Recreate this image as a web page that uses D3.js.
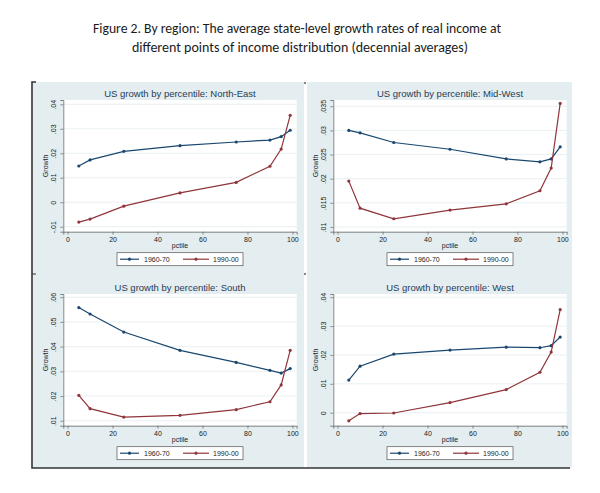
<!DOCTYPE html>
<html>
<head lang="en">
    <meta charset="UTF-8">
    <title>Growth by percentile, by region</title>
    <script type="text/javascript" src="https://cdn.jsdelivr.net/npm/d3@7/dist/d3.min.js"></script>
    <style>
        body { margin: 0; background: #fff; }
        text { font-family: "Liberation Sans", Arial, sans-serif; }
    </style>
</head>
<body>
<svg width="600" height="493"></svg>

<script>
    // percentiles shared by every panel
    var pctile = [5, 10, 25, 50, 75, 90, 95, 99];
    var seriesNames = ["1960-70", "1990-00"];
    var regions = ["North-East", "Mid-West", "South", "West"];

    // growth rates
    var ne6070 = [0.0148, 0.0173, 0.0208, 0.0231, 0.0246, 0.0254, 0.0268, 0.0294];
    var ne9000 = [-0.0081, -0.0069, -0.0016, 0.0038, 0.0081, 0.0147, 0.0217, 0.0355];
    var mw6070 = [0.0300, 0.0295, 0.0275, 0.0261, 0.0241, 0.0235, 0.0241, 0.0266];
    var mw9000 = [0.0195, 0.0139, 0.0117, 0.0135, 0.0148, 0.0175, 0.0222, 0.0356];
    var so6070 = [0.0558, 0.0532, 0.0459, 0.0385, 0.0336, 0.0304, 0.0293, 0.0311];
    var so9000 = [0.0203, 0.0149, 0.0115, 0.0122, 0.0145, 0.0177, 0.0245, 0.0385];
    var we6070 = [0.0113, 0.0161, 0.0203, 0.0217, 0.0227, 0.0225, 0.0232, 0.0262];
    var we9000 = [-0.0028, -0.0003, -0.0001, 0.0035, 0.0080, 0.0140, 0.0210, 0.0357];

    // axis ticks
    var xTicks = [0, 20, 40, 60, 80, 100];
    var neTicks = [-0.01, 0, 0.01, 0.02, 0.03, 0.04];
    var mwTicks = [0.01, 0.015, 0.02, 0.025, 0.03, 0.035];
    var soTicks = [0.01, 0.02, 0.03, 0.04, 0.05, 0.06];
    var weTicks = [0, 0.01, 0.02, 0.03, 0.04];

    // y ranges of the plot regions (Stata pads a little past the ticks)
    var xDomain = [-1.9, 101.9];
    var neDomain = [-0.01204, 0.04176];
    var mwDomain = [0.00902, 0.0363];
    var soDomain = [0.008, 0.0613];
    var weDomain = [-0.0045, 0.0411];

    var colors = ["#1a476f", "#90353b"];

    var panels = [
        {name: regions[0], data: [ne6070, ne9000], ticks: neTicks, domain: neDomain, col: 0, row: 0},
        {name: regions[1], data: [mw6070, mw9000], ticks: mwTicks, domain: mwDomain, col: 1, row: 0},
        {name: regions[2], data: [so6070, so9000], ticks: soTicks, domain: soDomain, col: 0, row: 1},
        {name: regions[3], data: [we6070, we9000], ticks: weTicks, domain: weDomain, col: 1, row: 1}
    ];

    // Stata style: ".04", "-.01", "0"
    function stataFmt(v) {
        var s = String(+v.toFixed(4));
        return s.replace(/^(-?)0\./, "$1.");
    }

    var svg = d3.select("svg");

    // figure title
    var title = svg.append("text")
            .attr("text-anchor", "middle")
            .style("font-family", "Carlito, Calibri, 'Open Sans', sans-serif")
            .style("font-size", "13.5px")
            .attr("fill", "#1a1a1a");
    title.append("tspan").attr("x", 297).attr("y", 33)
            .attr("textLength", 408).attr("lengthAdjust", "spacingAndGlyphs")
            .text("Figure 2. By region: The average state-level growth rates of real income at");
    title.append("tspan").attr("x", 300).attr("y", 52)
            .attr("textLength", 336).attr("lengthAdjust", "spacingAndGlyphs")
            .text("different points of income distribution (decennial averages)");

    // panel backgrounds
    var colX = [33, 307], colW = [271, 265];
    var rowY = [82, 274], rowH = [192, 194];
    var plotLeft = [63.3, 333.3], plotW = 233.4;
    var plotTop = [100, 294], plotBottom = [231.7, 425.7];

    panels.forEach(function (p) {
        svg.append("rect")
                .attr("x", colX[p.col]).attr("y", rowY[p.row])
                .attr("width", colW[p.col]).attr("height", rowH[p.row])
                .attr("fill", "#e4edf0");
    });

    // frame left over from the document crop
    svg.append("path")
            .attr("d", "M36,82H32V468H570")
            .attr("fill", "none").attr("stroke", "#333").attr("stroke-width", 1.6);
    svg.append("path")
            .attr("d", "M32,274H36M305,82V84M305,273V275")
            .attr("fill", "none").attr("stroke", "#333").attr("stroke-width", 1.2);

    panels.forEach(function (p) {
        var left = plotLeft[p.col], right = left + plotW;
        var top = plotTop[p.row], bottom = plotBottom[p.row];
        var g = svg.append("g");

        var x = d3.scaleLinear().domain(xDomain).range([left, right]);
        var y = d3.scaleLinear().domain(p.domain).range([bottom, top]);

        g.append("rect")
                .attr("x", left).attr("y", top)
                .attr("width", plotW).attr("height", bottom - top)
                .attr("fill", "#fff");

        // grid
        g.selectAll(".grid").data(p.ticks).enter().append("line")
                .attr("x1", left).attr("x2", right)
                .attr("y1", function (d) { return y(d); })
                .attr("y2", function (d) { return y(d); })
                .attr("stroke", "#e3ecef").attr("stroke-width", 0.8);

        // y axis
        var yAxis = g.append("g")
                .attr("transform", "translate(" + left + ",0)")
                .call(d3.axisLeft(y).tickValues(p.ticks).tickSize(3).tickPadding(2).tickFormat(stataFmt));
        yAxis.select(".domain").attr("stroke", "#555").attr("stroke-width", 0.7);
        yAxis.selectAll(".tick line").attr("stroke", "#555").attr("stroke-width", 0.6);
        yAxis.selectAll(".tick text")
                .attr("x", 0).attr("dy", 0)
                .attr("transform", "translate(-7,0) rotate(-90)")
                .attr("text-anchor", "middle")
                .style("font-size", "7px").attr("fill", "#222");

        // x axis
        var xAxis = g.append("g")
                .attr("transform", "translate(0," + bottom + ")")
                .call(d3.axisBottom(x).tickValues(xTicks).tickSize(3).tickPadding(2));
        xAxis.select(".domain").attr("stroke", "#555").attr("stroke-width", 0.7);
        xAxis.selectAll(".tick line").attr("stroke", "#555").attr("stroke-width", 0.6);
        xAxis.selectAll(".tick text")
                .attr("y", 5.5).attr("dy", "0.71em")
                .style("font-size", "7px").attr("fill", "#222");

        // titles
        var cx = (left + right) / 2;
        g.append("text")
                .attr("x", cx).attr("y", top - 3)
                .attr("text-anchor", "middle")
                .style("font-size", "9.5px").attr("fill", "#283c55")
                .text("US growth by percentile: " + p.name);
        g.append("text")
                .attr("x", cx).attr("y", bottom + 16.5)
                .attr("text-anchor", "middle")
                .style("font-size", "7px").attr("fill", "#222")
                .text("pctile");
        g.append("text")
                .attr("transform", "translate(" + (left - 15.5) + "," + ((top + bottom) / 2) + ") rotate(-90)")
                .attr("text-anchor", "middle")
                .style("font-size", "7px").attr("fill", "#222")
                .text("Growth");

        // series
        var line = d3.line()
                .x(function (d, i) { return x(pctile[i]); })
                .y(function (d) { return y(d); });

        p.data.forEach(function (vals, s) {
            g.append("path")
                    .datum(vals)
                    .attr("d", line)
                    .attr("fill", "none")
                    .attr("stroke", colors[s])
                    .attr("stroke-width", 1.2);
            g.selectAll(".pt" + s).data(vals).enter().append("circle")
                    .attr("cx", function (d, i) { return x(pctile[i]); })
                    .attr("cy", function (d) { return y(d); })
                    .attr("r", 1.6)
                    .attr("fill", colors[s]);
        });

        // legend
        var lx = cx - 63, ly = bottom + 21;
        g.append("rect")
                .attr("x", lx).attr("y", ly).attr("width", 126).attr("height", 13)
                .attr("fill", "#fff").attr("stroke", "#555").attr("stroke-width", 0.7);
        var items = [{x0: 3, x1: 22, tx: 27}, {x0: 66, x1: 92, tx: 96}];
        seriesNames.forEach(function (name, s) {
            var it = items[s];
            g.append("line")
                    .attr("x1", lx + it.x0).attr("x2", lx + it.x1)
                    .attr("y1", ly + 6.5).attr("y2", ly + 6.5)
                    .attr("stroke", colors[s]).attr("stroke-width", 1.2);
            g.append("circle")
                    .attr("cx", lx + (it.x0 + it.x1) / 2).attr("cy", ly + 6.5)
                    .attr("r", 1.6).attr("fill", colors[s]);
            g.append("text")
                    .attr("x", lx + it.tx).attr("y", ly + 9)
                    .style("font-size", "7px").attr("fill", "#222")
                    .text(name);
        });
    });
</script>
</body>
</html>
